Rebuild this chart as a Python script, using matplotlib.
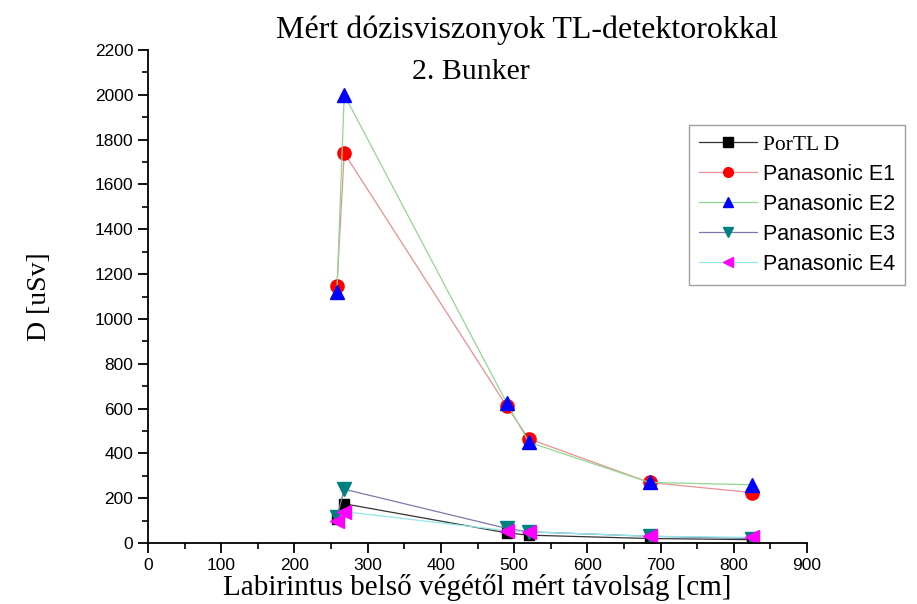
import matplotlib
matplotlib.use("Agg")
import matplotlib.pyplot as plt
from matplotlib.ticker import MultipleLocator

x = [258, 268, 490, 520, 685, 825]
portl_d = [105, 175, 45, 35, 20, 15]
pan_e1 = [1145, 1740, 610, 465, 270, 225]
pan_e2 = [1120, 2000, 625, 450, 270, 260]
pan_e3 = [115, 240, 65, 50, 30, 20]
pan_e4 = [100, 140, 55, 50, 30, 25]

series_names = ["PorTL D", "Panasonic E1", "Panasonic E2", "Panasonic E3", "Panasonic E4"]
series_vals = [portl_d, pan_e1, pan_e2, pan_e3, pan_e4]
line_colors = ["#333333", "#e89090", "#90d890", "#7a7aa8", "#90e8e8"]
marker_colors = ["#000000", "#ff0000", "#0000ff", "#008080", "#ff00ff"]
markers = ["s", "o", "^", "v", "<"]
msizes = [7.5, 9.5, 9.5, 9.5, 9.5]

xlabel = "Labirintus belső végétől mért távolság [cm]"
ylabel = "D [uSv]"

fig = plt.figure(figsize=(9.17, 6.04), dpi=100)
ax = fig.add_axes([148/917, 1-543/604, (807-148)/917, (543-50)/604])

for name, vals, lc, mc, mk, ms in zip(series_names, series_vals, line_colors, marker_colors, markers, msizes):
    ax.plot(x, vals, color=lc, lw=0.9, marker=mk, markersize=ms,
            markerfacecolor=mc, markeredgecolor=mc, label=name)

ax.set_xlim(0, 900)
ax.set_ylim(0, 2200)
ax.xaxis.set_major_locator(MultipleLocator(100))
ax.xaxis.set_minor_locator(MultipleLocator(50))
ax.yaxis.set_major_locator(MultipleLocator(200))
ax.yaxis.set_minor_locator(MultipleLocator(100))
ax.spines["top"].set_visible(False)
ax.spines["right"].set_visible(False)
for s in ["left", "bottom"]:
    ax.spines[s].set_linewidth(1.3)
ax.tick_params(which="major", direction="out", length=7, width=1.3, labelsize=12.5)
ax.tick_params(which="minor", direction="out", length=4, width=1.2)
for lab in ax.get_xticklabels() + ax.get_yticklabels():
    lab.set_fontfamily("Liberation Sans")

ax.set_xlabel(xlabel, fontfamily="Liberation Serif", fontsize=21, labelpad=1)
ax.set_ylabel(ylabel, fontfamily="Liberation Serif", fontsize=20, labelpad=31)

fig.text(527/917, 1-30/604, "Mért dózisviszonyok TL-detektorokkal", ha="center", va="center",
         fontfamily="Liberation Serif", fontsize=23)
fig.text(471/917, 1-72/604, "2. Bunker", ha="center", va="center",
         fontfamily="Liberation Serif", fontsize=21.5)

leg = ax.legend(loc="upper right", bbox_to_anchor=(905/917, 1-125/604),
                bbox_transform=fig.transFigure, fancybox=False, frameon=True,
                edgecolor="#888888", fontsize=15.5, handlelength=2.7, labelspacing=0.42,
                borderpad=0.45, handletextpad=0.3, borderaxespad=0)
leg.get_frame().set_linewidth(1.0)
for h in leg.legend_handles:
    h.set_markersize(7)
for i, t in enumerate(leg.get_texts()):
    t.set_fontfamily("Liberation Serif" if i == 0 else "Liberation Sans")

fig.savefig("out.png", dpi=100)
